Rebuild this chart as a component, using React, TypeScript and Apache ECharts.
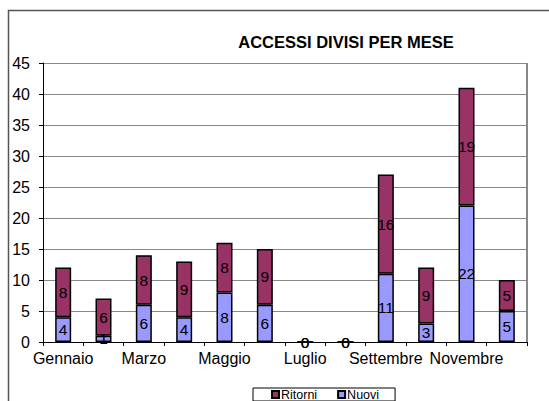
import React, { useEffect, useRef } from "react";
import * as echarts from "echarts";

const categories = ["Gennaio", "Febbraio", "Marzo", "Aprile", "Maggio", "Giugno", "Luglio", "Agosto", "Settembre", "Ottobre", "Novembre", "Dicembre"];
const nuovi = [4, 1, 6, 4, 8, 6, 0, 0, 11, 3, 22, 5];
const ritorni = [8, 6, 8, 9, 8, 9, 0, 0, 16, 9, 19, 5];
const titleText = "ACCESSI DIVISI PER MESE";

export default function App() {
  const ref = useRef<HTMLDivElement>(null);
  useEffect(() => {
    if (!ref.current) return;
    const chart = echarts.init(ref.current, undefined, { renderer: "svg" });
    const font = "Arial, 'Liberation Sans', sans-serif";
    const labelStyle = {
      show: true,
      position: "inside" as const,
      color: "#000",
      fontSize: 15.5,
      fontFamily: font,
    };
    chart.setOption({
      animation: false,
      backgroundColor: "#fff",
      title: {
        text: titleText,
        left: 341,
        top: 28,
        textAlign: "center",
        textStyle: { fontFamily: font, fontSize: 16.5, fontWeight: "bold", color: "#000" },
      },
      graphic: [
        {
          type: "rect",
          shape: { x: 8.5, y: 10.5, width: 600, height: 500 },
          style: { fill: "none", stroke: "#555", lineWidth: 1.5 },
          silent: true,
          z: 100,
        },
        {
          type: "line",
          shape: { x1: 527, y1: 63, x2: 527, y2: 342 },
          style: { stroke: "#888", lineWidth: 2 },
          silent: true,
          z: 0,
        },
      ],
      legend: {
        data: ["Ritorni", "Nuovi"],
        left: 253,
        top: 388,
        icon: "rect",
        itemWidth: 7,
        itemHeight: 7,
        itemGap: 20,
        padding: [0, 16, 0, 18],
        borderColor: "#000",
        borderWidth: 1,
        textStyle: { fontFamily: font, fontSize: 12.5, color: "#000", padding: [0, 0, 0, -3] },
      },
      grid: { left: 43, top: 63, width: 484, height: 279, containLabel: false },
      xAxis: {
        type: "category",
        data: categories,
        boundaryGap: true,
        axisLine: { lineStyle: { color: "#000", width: 1 } },
        axisTick: { show: true, interval: 0, length: 4, lineStyle: { color: "#000" } },
        axisLabel: { interval: 1, color: "#000", fontFamily: font, fontSize: 16, margin: 8 },
        splitLine: { show: false },
      },
      yAxis: {
        type: "value",
        min: 0,
        max: 45,
        interval: 5,
        axisLine: { show: true, lineStyle: { color: "#000", width: 1 } },
        axisTick: { show: true, length: 4, lineStyle: { color: "#000" } },
        axisLabel: { color: "#000", fontFamily: font, fontSize: 16, margin: 13 },
        splitLine: { show: true, lineStyle: { color: "#888", width: 1.2 } },
      },
      series: [
        {
          name: "Nuovi",
          type: "bar",
          stack: "tot",
          data: nuovi,
          barWidth: 16,
          itemStyle: { color: "#9999FF", borderColor: "#000", borderWidth: 1.5 },
          label: labelStyle,
        },
        {
          name: "Ritorni",
          type: "bar",
          stack: "tot",
          data: ritorni,
          barWidth: 16,
          itemStyle: { color: "#993366", borderColor: "#000", borderWidth: 1.5 },
          label: labelStyle,
        },
      ],
    });
    return () => chart.dispose();
  }, []);
  return <div ref={ref} style={{ position: "fixed", left: 0, top: 0, width: 549, height: 401 }} />;
}
